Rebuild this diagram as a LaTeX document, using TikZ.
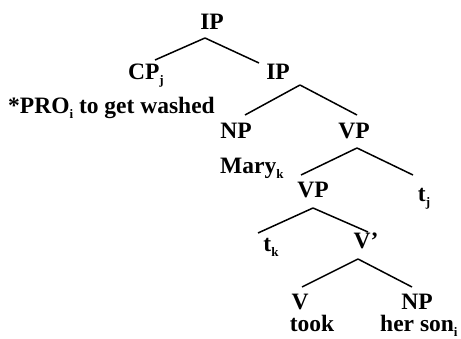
\documentclass[tikz,border=0pt]{standalone}
\usepackage{fontspec}
\usetikzlibrary{calc}
\setmainfont{Liberation Serif}
\newcommand{\lsub}[1]{\raisebox{-0.18em}{\fontsize{13}{14}\selectfont #1}}
\begin{document}
\begin{tikzpicture}[x=1pt,y=-1pt,
  lab/.style={font=\fontsize{23.5}{25}\selectfont\bfseries, inner sep=0pt, anchor=base},
  edge/.style={line width=1.5pt}]
\useasboundingbox (0,0) rectangle (461,339);
\node[lab] (IP0) at (212,30) {IP};
\node[lab] (CP) at (146,80) {CP\lsub{j}};
\node[lab] (IP1) at (278,80) {IP};
\node[lab, anchor=base west] (PRO) at (8,114) {*PRO\lsub{i} to get washed};
\node[lab] (NP1) at (236,139) {NP};
\node[lab] (VP1) at (354,139) {VP};
\node[lab, anchor=base west] (Mary) at (220,174) {Mary\lsub{k}};
\node[lab] (VP2) at (313,198) {VP};
\node[lab] (tj) at (424,202) {t\lsub{j}};
\node[lab] (tk) at (271,252) {t\lsub{k}};
\node[lab] (Vbar) at (366,249) {V'};
\node[lab] (V) at (300,310) {V};
\node[lab] (NP2) at (417,310) {NP};
\node[lab] (took) at (312,332) {took};
\node[lab, anchor=base west] (son) at (380,332) {her son\lsub{i}};
\draw[edge] ($(IP0.base)+(-7,8)$) -- ($(CP.base)+(9,-20)$);
\draw[edge] ($(IP0.base)+(-7,8)$) -- ($(IP1.base)+(-19,-17)$);
\draw[edge] ($(IP1.base)+(22,5)$) -- ($(NP1.base)+(9,-24)$);
\draw[edge] ($(IP1.base)+(22,5)$) -- ($(VP1.base)+(3,-24)$);
\draw[edge] ($(VP1.base)+(3,9)$) -- ($(VP2.base)+(-12,-23)$);
\draw[edge] ($(VP1.base)+(3,9)$) -- ($(tj.base)+(-11,-27)$);
\draw[edge] ($(VP2.base)+(0,10)$) -- ($(tk.base)+(-13,-19)$);
\draw[edge] ($(VP2.base)+(0,10)$) -- ($(Vbar.base)+(2,-17)$);
\draw[edge] ($(Vbar.base)+(-8,10)$) -- ($(V.base)+(2,-23)$);
\draw[edge] ($(Vbar.base)+(-8,10)$) -- ($(NP2.base)+(-5,-23)$);
\end{tikzpicture}
\end{document}
